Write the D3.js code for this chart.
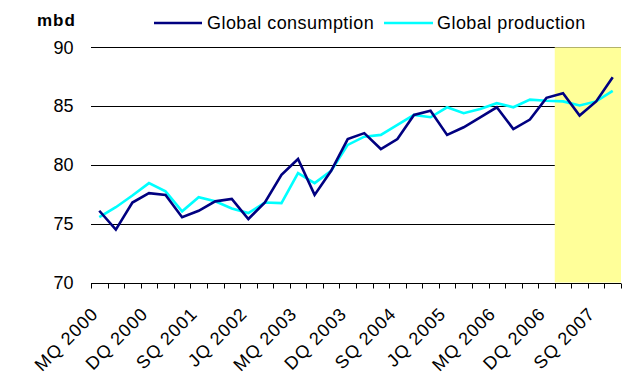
<!DOCTYPE html>
<html>
<head>
<meta charset="utf-8">
<script src="https://cdn.jsdelivr.net/npm/d3@7"></script>
<style>
  html, body { margin: 0; padding: 0; background: #fff; }
  svg { display: block; }
  text { font-family: "Liberation Sans", Arial, sans-serif; fill: #000; }
</style>
</head>
<body>
<svg id="chart" width="628" height="374"></svg>
<script>
const quarters = [
  "MQ 2000","JQ 2000","SQ 2000","DQ 2000",
  "MQ 2001","JQ 2001","SQ 2001","DQ 2001",
  "MQ 2002","JQ 2002","SQ 2002","DQ 2002",
  "MQ 2003","JQ 2003","SQ 2003","DQ 2003",
  "MQ 2004","JQ 2004","SQ 2004","DQ 2004",
  "MQ 2005","JQ 2005","SQ 2005","DQ 2005",
  "MQ 2006","JQ 2006","SQ 2006","DQ 2006",
  "MQ 2007","JQ 2007","SQ 2007","DQ 2007"
];
const consumption = [76.1, 74.5, 76.8, 77.6, 77.45, 75.55, 76.1, 76.9, 77.1, 75.4, 76.8, 79.15,
  80.5, 77.45, 79.5, 82.2, 82.7, 81.35, 82.2, 84.25, 84.6, 82.55, 83.2, 84.05,
  84.9, 83.05, 83.85, 85.7, 86.1, 84.2, 85.4, 87.45];
const production = [75.55, 76.4, 77.4, 78.45, 77.75, 76.05, 77.25, 76.9, 76.3, 75.9, 76.8, 76.75,
  79.3, 78.45, 79.5, 81.7, 82.4, 82.55, 83.4, 84.25, 84.05, 84.9, 84.4, 84.75,
  85.25, 84.9, 85.55, 85.45, 85.4, 85.05, 85.4, 86.3];
const tickLabels = ["MQ 2000","DQ 2000","SQ 2001","JQ 2002","MQ 2003","DQ 2003",
  "SQ 2004","JQ 2005","MQ 2006","DQ 2006","SQ 2007"];
const yTicks = [70, 75, 80, 85, 90];
const shadedQuarters = ["MQ 2007","JQ 2007","SQ 2007","DQ 2007"];
const seriesNames = ["Global consumption", "Global production"];

const svg = d3.select("#chart");
const plotLeft = 91, plotRight = 621, plotTop = 47.3, plotBottom = 282.5;

const x = d3.scaleBand().domain(quarters).range([plotLeft, plotRight]).padding(0);
const y = d3.scaleLinear().domain([70, 90]).range([plotBottom, plotTop]);

// gridlines
svg.append("g").selectAll("line").data(yTicks.filter(d => d > 70)).join("line")
  .attr("x1", plotLeft).attr("x2", plotRight)
  .attr("y1", d => Math.round(y(d)) + 0.5).attr("y2", d => Math.round(y(d)) + 0.5)
  .attr("stroke", "#000").attr("stroke-width", 1);

// shaded forecast region
svg.append("rect")
  .attr("x", x(shadedQuarters[0]))
  .attr("y", y(90))
  .attr("width", x(shadedQuarters[shadedQuarters.length - 1]) + x.bandwidth() - x(shadedQuarters[0]))
  .attr("height", y(70) - y(90))
  .attr("fill", "#FFFF99");

// y labels
svg.append("g").selectAll("text").data(yTicks).join("text")
  .attr("x", 73.5).attr("y", d => y(d))
  .attr("dy", "0.35em")
  .attr("text-anchor", "end")
  .style("font-size", "18px")
  .text(d => d);

svg.append("text").attr("x", 37).attr("y", 26)
  .style("font-size", "17px").style("font-weight", "bold").style("letter-spacing", "1px")
  .text("mbd");

// lines
const line = d3.line().x((d, i) => x(quarters[i]) + x.bandwidth() / 2).y(d => y(d));
svg.append("path").datum(production).attr("d", line)
  .attr("fill", "none").attr("stroke", "#00FFFF").attr("stroke-width", 2.6);
svg.append("path").datum(consumption).attr("d", line)
  .attr("fill", "none").attr("stroke", "#000080").attr("stroke-width", 2.6);

// x axis
const yAxisPx = Math.round(plotBottom) + 0.5;
svg.append("line").attr("x1", plotLeft).attr("x2", plotRight)
  .attr("y1", yAxisPx).attr("y2", yAxisPx).attr("stroke", "#000");
const boundaries = quarters.map(q => x(q)).concat([plotRight]);
svg.append("g").selectAll("line").data(boundaries).join("line")
  .attr("x1", d => Math.round(d) + 0.5).attr("x2", d => Math.round(d) + 0.5)
  .attr("y1", yAxisPx).attr("y2", yAxisPx + 5)
  .attr("stroke", "#000");

svg.append("g").selectAll("text").data(tickLabels).join("text")
  .attr("transform", d => `translate(${x(d) + x.bandwidth() / 2},${315}) rotate(-45)`)
  .attr("text-anchor", "end")
  .style("font-size", "18px").style("letter-spacing", "1px")
  .text(d => d);

// legend
const legend = [
  { name: seriesNames[0], color: "#000080", x1: 154, x2: 202, tx: 207 },
  { name: seriesNames[1], color: "#00FFFF", x1: 384, x2: 433, tx: 437 }
];
legend.forEach(l => {
  svg.append("line").attr("x1", l.x1).attr("x2", l.x2).attr("y1", 23).attr("y2", 23)
    .attr("stroke", l.color).attr("stroke-width", 2.6);
  svg.append("text").attr("x", l.tx).attr("y", 29)
    .style("font-size", "18px").style("letter-spacing", "0.45px")
    .text(l.name);
});
</script>
</body>
</html>
